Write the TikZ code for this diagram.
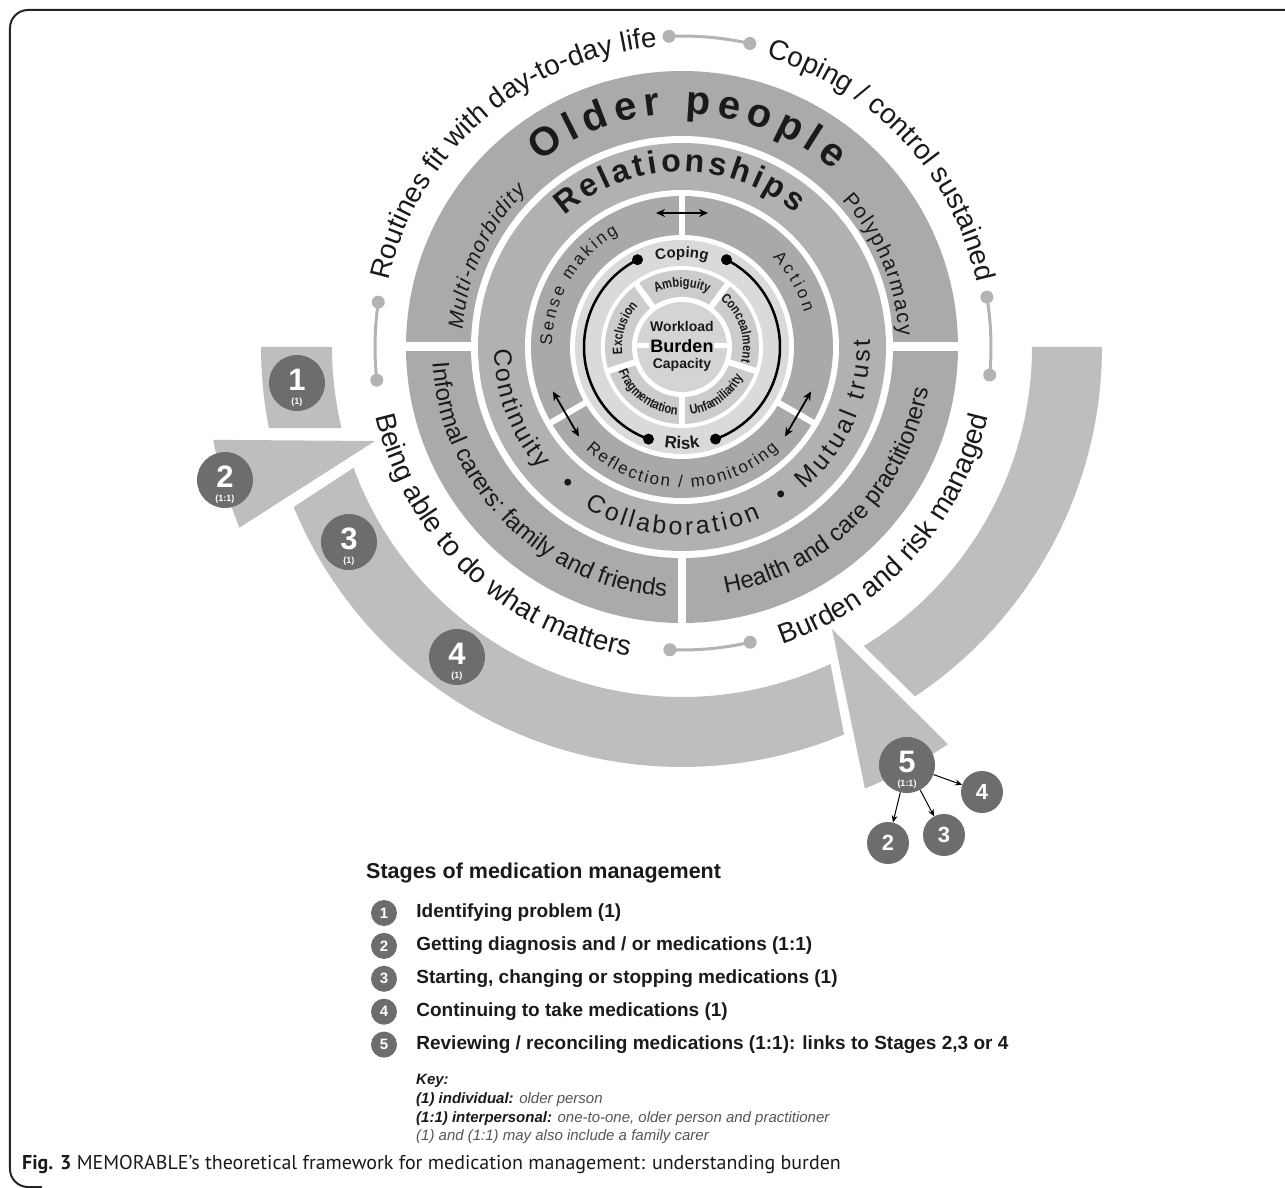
\documentclass[tikz,border=0pt]{standalone}
\usepackage{fontspec}
\setmainfont{Liberation Sans}
\newfontfamily\narrowsf[FakeStretch=0.82]{Liberation Sans}
\newfontfamily\captionsf{PT Sans}
\usetikzlibrary{arrows.meta,positioning,graphs,decorations.text}
\definecolor{ringdark}{HTML}{AAAAAA}
\definecolor{ringmid}{HTML}{B1B1B1}
\definecolor{ringsense}{HTML}{A9A9A9}
\definecolor{ringlight}{HTML}{DADADA}
\definecolor{segfill}{HTML}{CCCCCC}
\definecolor{corefill}{HTML}{D4D4D4}
\definecolor{stagefill}{HTML}{BEBEBE}
\definecolor{numfill}{HTML}{6D6D6D}
\definecolor{linkgrey}{HTML}{B3B3B3}
\definecolor{txt}{HTML}{1A1A1A}
\definecolor{keygrey}{HTML}{555555}

\begin{document}
\begin{tikzpicture}[x=1pt,y=1pt]
	\tikzstyle{every node}=[font=\fontsize{14}{16}\selectfont,text=txt];
	\tikzstyle{stage}=[fill=stagefill];
	\tikzstyle{ringgap}=[draw=white,line width=6pt];
	\tikzstyle{loopline}=[line width=2.5pt,draw=black];
	\tikzstyle{dblarrow}=[{Stealth[length=9pt,width=8pt]}-{Stealth[length=9pt,width=8pt]},line width=1.8pt];
	\tikzstyle{linkarc}=[draw=linkgrey,line width=3pt];
	\tikzstyle{arctext}=[decorate,decoration={text along path,text align=center,text color=txt}];
	\tikzstyle{arcfit}=[decorate,decoration={text along path,text align=fit to path,text color=txt}];
	\tikzstyle{numc}=[circle,fill=numfill,minimum size=56pt,inner sep=0pt];
	\tikzstyle{bignum}=[inner sep=0pt,text=white,font=\bfseries\fontsize{31}{31}\selectfont];
	\tikzstyle{subnum}=[inner sep=0pt,text=white,font=\bfseries\fontsize{9}{9}\selectfont];
	\tikzstyle{minic}=[circle,fill=numfill,minimum size=42pt,inner sep=0pt,text=white,font=\bfseries\fontsize{22}{22}\selectfont];
	\tikzstyle{keyc}=[circle,fill=numfill,minimum size=26pt,inner sep=0pt,text=white,font=\bfseries\fontsize{15}{15}\selectfont];
	\tikzstyle{keytxt}=[inner sep=0pt,font=\bfseries\fontsize{19}{22}\selectfont];
	\tikzstyle{keyline}=[anchor=base west,inner sep=0pt,text=keygrey,font=\itshape\fontsize{15}{18}\selectfont];
	\tikzstyle{coretxt}=[inner sep=0pt,font=\bfseries\fontsize{14}{14}\selectfont];

	\useasboundingbox (-682,-841) rectangle (603,347);
	\draw[line width=2pt,draw=black!85,rounded corners=18pt] (-640,-840) -- (-672,-840) -- (-672,337) -- (603,337);

	% stages around the wheel
	\fill[stage] (180:350) -- (180:421) arc[start angle=180,end angle=191.1,radius=421pt] -- (193.4:350) arc[start angle=193.4,end angle=180,radius=350pt] -- cycle;
	\fill[stage] (-307,-94) -- (191.2:478) arc[start angle=191.2,end angle=202.2,radius=478pt] -- cycle;
	\fill[stage] (200.2:350) -- (202.4:420) arc[start angle=202.4,end angle=292.7,radius=420pt] -- (295.1:350) arc[start angle=295.1,end angle=200.2,radius=350pt] -- cycle;
	\fill[stage] (150,-282) -- (292.5:478) arc[start angle=292.5,end angle=303.8,radius=478pt] -- cycle;
	\fill[stage] (301.3:350) -- (303.7:420) arc[start angle=303.7,end angle=360,radius=420pt] -- (0:350) arc[start angle=360,end angle=301.3,radius=350pt] -- cycle;

	% rings
	\fill[ringdark] (0,0) circle[radius=276pt];
	\fill[white] (0,0) circle[radius=211pt];
	\fill[ringmid] (0,0) circle[radius=204pt];
	\fill[white] (0,0) circle[radius=157pt];
	\fill[ringsense] (0,0) circle[radius=151pt];
	\fill[white] (0,0) circle[radius=112pt];
	\fill[ringlight] (0,0) circle[radius=107pt];
	\fill[white] (0,0) circle[radius=81pt];
	\fill[segfill] (0,0) circle[radius=77pt];
	\fill[white] (0,0) circle[radius=50pt];
	\fill[corefill] (0,0) circle[radius=45pt];

	\draw[ringgap,line width=9pt] (180:206) -- (180:280) (0:206) -- (0:280);
	\draw[ringgap,line width=8pt] (270:206) -- (270:280);
	\foreach \a in {90,210,330} \draw[ringgap] (\a:109) -- (\a:154);
	\foreach \a in {54,126,198,270,342} \draw[ringgap] (\a:47) -- (\a:79);
	\draw[ringgap,line width=5pt] (-46,1) -- (46,1);

	\draw[loopline] (117:98) arc[start angle=117,end angle=250,radius=98pt];
	\draw[loopline] (63:98) arc[start angle=63,end angle=-70,radius=98pt];
	\fill (117:98) circle[radius=5.5pt] (250:98) circle[radius=5.5pt] (63:98) circle[radius=5.5pt] (-70:98) circle[radius=5.5pt];

	\foreach \r/\nm in {0/ta,120/la,240/ra}{
		\begin{scope}[rotate=\r]
			\coordinate (\nm1) at (-26,134);
			\coordinate (\nm2) at (26,134);
		\end{scope}
		\draw[dblarrow] (\nm1) -- (\nm2);
	}

	\foreach \a/\b/\r in {92.4/77.4/311,9.3/-5.2/309,171.6/186.2/307,267.7/283/303}{
		\draw[linkarc] (\a:\r) arc[start angle=\a,end angle=\b,radius=\r pt];
		\fill[linkgrey] (\a:\r) circle[radius=6.5pt] (\b:\r) circle[radius=6.5pt];
	}

	% outcomes
	\path[arctext,decoration={text={|\fontsize{28}{28}\selectfont|Routines fit with day-to-day life}}] (182:301) arc[start angle=182,end angle=80,radius=301pt];
	\path[arctext,decoration={text={|\fontsize{28}{28}\selectfont|Coping / control sustained}}] (94:302) arc[start angle=94,end angle=-8,radius=302pt];
	\path[arctext,decoration={text={|\fontsize{28}{28}\selectfont|Being able to do what matters}}] (175:314) arc[start angle=175,end angle=278,radius=314pt];
	\path[arctext,decoration={text={|\fontsize{28}{28}\selectfont|Burden and risk managed}}] (267:314) arc[start angle=267,end angle=369,radius=314pt];

	% wheel
	\path[arcfit,decoration={text={|\bfseries\fontsize{40}{40}\selectfont|Older people}}] (127.5:233) arc[start angle=127.5,end angle=49.3,radius=233pt];
	\path[arcfit,decoration={text={|\itshape\fontsize{21}{21}\selectfont|Multi-morbidity}}] (175.5:220) arc[start angle=175.5,end angle=135,radius=220pt];
	\path[arcfit,decoration={text={|\fontsize{21}{21}\selectfont|Polypharmacy}}] (42.6:217) arc[start angle=42.6,end angle=3,radius=217pt];
	\path[arctext,decoration={text={|\fontsize{24}{24}\selectfont|Informal carers: family and friends}}] (170:250) arc[start angle=170,end angle=280,radius=250pt];
	\path[arctext,decoration={text={|\fontsize{24}{24}\selectfont|Health and care practitioners}}] (260:250) arc[start angle=260,end angle=370.4,radius=250pt];
	\path[arcfit,decoration={text={|\bfseries\fontsize{32}{32}\selectfont|Relationships}}] (131.8:175.5) arc[start angle=131.8,end angle=49.8,radius=175.5pt];
	\path[arcfit,decoration={text={|\fontsize{25}{25}\selectfont|Continuity}}] (180.8:188) arc[start angle=180.8,end angle=220.5,radius=188pt];
	\path[arcfit,decoration={text={|\fontsize{25}{25}\selectfont|Collaboration}}] (238.7:188) arc[start angle=238.7,end angle=294.7,radius=188pt];
	\path[arcfit,decoration={text={|\fontsize{25}{25}\selectfont|Mutual trust}}] (310.7:188) arc[start angle=310.7,end angle=362.4,radius=188pt];
	\fill[txt] (229.8:177) circle[radius=3.5pt] (303.9:177) circle[radius=3.5pt];
	\path[arcfit,decoration={text={|\fontsize{17}{17}\selectfont|Sense making}}] (179.5:130) arc[start angle=179.5,end angle=119.2,radius=130pt];
	\path[arcfit,decoration={text={|\fontsize{17}{17}\selectfont|Action}}] (44.6:127) arc[start angle=44.6,end angle=15.9,radius=127pt];
	\path[arcfit,decoration={text={|\fontsize{17}{17}\selectfont|Reflection / monitoring}}] (226.8:140.5) arc[start angle=226.8,end angle=313.4,radius=140.5pt];
	\path[arctext,decoration={text={|\bfseries\fontsize{15}{15}\selectfont|Coping}}] (130:90) arc[start angle=130,end angle=50,radius=90pt];
	\path[arctext,decoration={text={|\bfseries\fontsize{17}{17}\selectfont|Risk}}] (230:102) arc[start angle=230,end angle=310,radius=102pt];
	\path[arctext,decoration={text={|\narrowsf\bfseries\fontsize{13.5}{13.5}\selectfont|Ambiguity}}] (140:60) arc[start angle=140,end angle=40,radius=60pt];
	\path[arctext,decoration={text={|\narrowsf\bfseries\fontsize{13.5}{13.5}\selectfont|Concealment}}] (70:61) arc[start angle=70,end angle=-33,radius=61pt];
	\path[arctext,decoration={text={|\narrowsf\bfseries\fontsize{13.5}{13.5}\selectfont|Exclusion}}] (214:60) arc[start angle=214,end angle=110,radius=60pt];
	\path[arctext,decoration={text={|\narrowsf\bfseries\fontsize{13.5}{13.5}\selectfont|Unfamiliarity}}] (255:68) arc[start angle=255,end angle=356,radius=68pt];
	\path[arctext,decoration={text={|\narrowsf\bfseries\fontsize{13.5}{13.5}\selectfont|Fragmentation}}] (182:68) arc[start angle=182,end angle=285,radius=68pt];

	\node[coretxt] (workload) at (0,21) {Workload};
	\node[coretxt,fill=corefill,inner sep=1pt,text=black,font=\bfseries\fontsize{18}{18}\selectfont] (burden) at (0,1) {Burden};
	\node[coretxt] (capacity) at (0,-18) {Capacity};

	% stage numbers
	\node[numc] (c1) at (-385,-36) {};
	\node[bignum] (c1n) at ([yshift=3pt]c1.center) {1};
	\node[subnum] (c1s) at ([yshift=-19pt]c1.center) {(1)};
	\node[numc] (c2) at (-457,-133) {};
	\node[bignum] (c2n) at ([yshift=3pt]c2.center) {2};
	\node[subnum] (c2s) at ([yshift=-19pt]c2.center) {(1:1)};
	\node[numc] (c3) at (-333,-195) {};
	\node[bignum] (c3n) at ([yshift=3pt]c3.center) {3};
	\node[subnum] (c3s) at ([yshift=-19pt]c3.center) {(1)};
	\node[numc] (c4) at (-225,-310) {};
	\node[bignum] (c4n) at ([yshift=3pt]c4.center) {4};
	\node[subnum] (c4s) at ([yshift=-19pt]c4.center) {(1)};
	\node[numc] (c5) at (225,-418) {};
	\node[bignum] (c5n) at ([yshift=3pt]c5.center) {5};
	\node[subnum] (c5s) at ([yshift=-19pt]c5.center) {(1:1)};
	\node[minic] (t2) at (206,-496) {2};
	\node[minic] (t3) at (262,-488) {3};
	\node[minic] (t4) at (300,-445) {4};
	\graph [use existing nodes,edges={-{Stealth[length=7pt,width=6pt]},line width=1pt}]{
		c5 -> {t2, t3, t4};
	};

	% key
	\node[inner sep=0pt,anchor=west,font=\bfseries\fontsize{21.5}{24}\selectfont] (ttl) at (-316,-526) {Stages of medication management};
	\node[keyc] (k1) at (-298,-566) {1};
	\node[keytxt,right=19pt of k1] (k1t) {Identifying problem (1)};
	\node[keyc,below=6.5pt of k1] (k2) {2};
	\node[keytxt,right=19pt of k2] (k2t) {Getting diagnosis and / or medications (1:1)};
	\node[keyc,below=6.5pt of k2] (k3) {3};
	\node[keytxt,right=19pt of k3] (k3t) {Starting, changing or stopping medications (1)};
	\node[keyc,below=6.5pt of k3] (k4) {4};
	\node[keytxt,right=19pt of k4] (k4t) {Continuing to take medications (1)};
	\node[keyc,below=6.5pt of k4] (k5) {5};
	\node[keytxt,right=19pt of k5] (k5t) {Reviewing / reconciling medications (1:1): links to Stages 2,3 or 4};

	\node[keyline,text=txt] (key0) at (-266,-737) {\textbf{Key:}};
	\node[keyline] (key1) at (-266,-756) {\textcolor{txt}{\textbf{(1) individual:}} older person};
	\node[keyline] (key2) at (-266,-775) {\textcolor{txt}{\textbf{(1:1) interpersonal:}} one-to-one, older person and practitioner};
	\node[keyline] (key3) at (-266,-793) {(1) and (1:1) may also include a family carer};

	\node[anchor=base west,inner sep=0pt,font=\captionsf\fontsize{20}{22}\selectfont] (cap) at (-660,-822) {\textbf{Fig. 3} MEMORABLE’s theoretical framework for medication management: understanding burden};
\end{tikzpicture}
\end{document}
